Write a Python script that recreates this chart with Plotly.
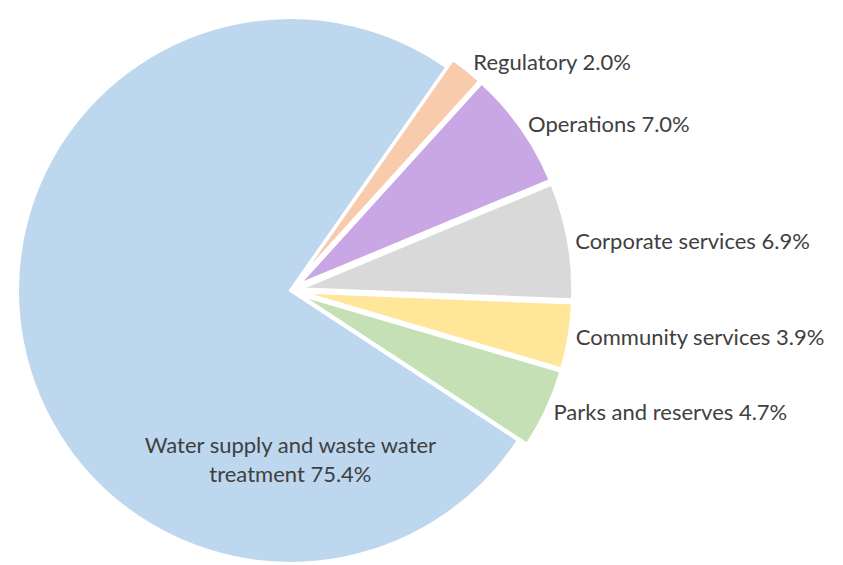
import plotly.graph_objects as go

# spending categories, clockwise from the top-right
labels = ['Regulatory', 'Operations', 'Corporate services', 'Community services',
          'Parks and reserves', 'Water supply and waste water<br>treatment']
values = [2.0, 7.0, 6.9, 3.9, 4.7, 75.4]
colors = ['#F8CBAD', '#C9A6E4', '#D9D9D9', '#FFE699', '#C5E0B4', '#BDD7EE']
pulls = [0.035, 0.035, 0.035, 0.035, 0.035, 0.0]
positions = ['outside'] * 5 + ['inside']

fig = go.Figure(go.Pie(
    labels=labels,
    values=values,
    sort=False,
    direction='clockwise',
    rotation=35,
    pull=pulls,
    marker=dict(colors=colors, line=dict(color='white', width=3)),
    texttemplate='%{label} %{value:.1f}%',
    textposition=positions,
    insidetextorientation='horizontal',
    textfont=dict(family='Lato', size=22, color='#404040'),
    automargin=False,
    hoverinfo='label+value',
    domain=dict(x=[0.0, 0.67], y=[0, 1]),
    showlegend=False,
))

fig.update_layout(
    width=843, height=565,
    margin=dict(l=0, r=0, t=0, b=0),
    paper_bgcolor='white',
    plot_bgcolor='white',
)

fig.write_html("out.html")
